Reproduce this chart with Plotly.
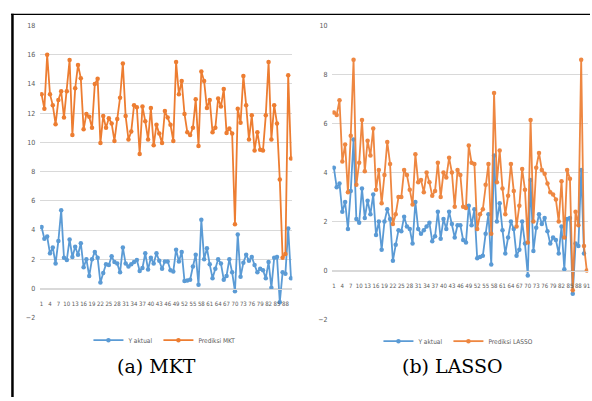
import plotly.graph_objects as go

# ---------------- data ----------------
y_aktual = [4.2, 3.4, 3.55, 2.4, 2.8, 1.7, 3.25, 5.35, 2.1, 1.95,
            3.35, 2.15, 2.85, 2.3, 3.1, 1.45, 2.0, 0.85, 2.0, 2.5,
            2.1, 0.4, 1.05, 1.65, 1.6, 2.2, 1.8, 1.7, 1.1, 2.8,
            1.7, 1.5, 1.65, 1.8, 1.95, 1.2, 1.4, 2.4, 1.3, 2.1,
            1.7, 2.4, 1.9, 1.35, 1.85, 1.85, 1.25, 1.15, 2.65, 1.85,
            2.5, 0.5, 0.55, 0.6, 1.5, 2.3, 0.25, 4.7, 2.0, 2.75,
            1.65, 0.7, 1.35, 2.0, 1.7, 0.6, 0.85, 2.0, 1.1, -0.2,
            3.7, 0.8, 1.75, 2.3, 1.9, 2.15, 1.6, 1.1, 1.35, 1.25,
            0.7, 1.8, 0.05, 2.1, 2.15, -0.95, 1.1, 1.0, 4.1, 0.7]

prediksi_mkt = [13.3, 12.3, 16.0, 13.3, 12.55, 11.25, 12.9, 13.5, 11.7, 13.5,
                15.65, 10.5, 13.7, 15.3, 14.4, 10.9, 11.95, 11.75, 11.0, 14.0,
                14.35, 9.95, 11.8, 11.0, 11.65, 11.3, 10.1, 11.6, 13.05, 15.4,
                11.8, 10.2, 10.75, 12.55, 12.4, 9.2, 12.45, 11.45, 10.2, 12.35,
                9.8, 11.2, 10.6, 9.95, 12.15, 11.7, 11.2, 10.1, 15.5, 13.3,
                14.2, 11.95, 10.7, 10.5, 11.0, 12.95, 9.75, 14.85, 14.2, 12.35,
                12.9, 10.7, 11.0, 13.0, 12.45, 13.65, 10.65, 10.95, 10.6, 4.4,
                12.3, 11.35, 14.55, 12.55, 10.2, 11.85, 9.45, 10.7, 9.5, 9.45,
                11.85, 15.5, 10.2, 12.55, 11.3, 7.45, 2.1, 2.35, 14.6, 8.9]

prediksi_lasso = [6.45, 6.35, 6.95, 4.45, 5.15, 3.2, 5.5, 8.6, 3.5, 4.4,
                  6.15, 4.05, 5.3, 4.7, 5.8, 3.3, 4.1, 2.75, 3.9, 5.25,
                  4.35, 1.9, 2.3, 3.0, 3.0, 4.1, 3.9, 3.3, 2.7, 4.75,
                  3.6, 3.7, 3.2, 4.0, 3.6, 3.05, 3.25, 4.4, 3.0, 4.0,
                  3.8, 4.6, 4.0, 2.6, 4.1, 3.9, 2.6, 2.55, 5.1, 4.4,
                  4.35, 1.7, 2.3, 2.5, 3.5, 4.35, 1.5, 7.25, 3.6, 4.9,
                  3.35, 2.3, 3.05, 4.35, 3.25, 1.8, 2.65, 4.15, 3.3, 1.15,
                  6.15, 2.0, 4.2, 4.8, 4.1, 3.95, 3.55, 3.2, 3.1, 2.9,
                  2.0, 3.65, 1.35, 4.1, 3.75, -0.8, 2.4, 1.85, 8.6, 1.0,
                  0.0]

x_mkt = list(range(1, len(prediksi_mkt) + 1))
x_lasso = list(range(1, len(prediksi_lasso) + 1))
x_act = list(range(1, len(y_aktual) + 1))

ticks_mkt = list(range(1, len(prediksi_mkt) + 1, 3))
ticks_lasso = list(range(1, len(prediksi_lasso) + 1, 3))

BLUE = "#5B9BD5"
ORANGE = "#ED7D31"
GRID = "#d9d9d9"
TXT = "#595959"

W, H = 592, 401


def px(v):
    return v / W


def py(v):
    return 1 - v / H


fig = go.Figure()

mk = dict(size=4.5, symbol="circle")
fig.add_trace(go.Scatter(x=x_act, y=y_aktual, mode="lines+markers", name="Y aktual",
                         line=dict(color=BLUE, width=1.8), marker=dict(color=BLUE, **mk),
                         xaxis="x", yaxis="y", legend="legend"))
fig.add_trace(go.Scatter(x=x_mkt, y=prediksi_mkt, mode="lines+markers", name="Prediksi MKT",
                         line=dict(color=ORANGE, width=1.8), marker=dict(color=ORANGE, **mk),
                         xaxis="x", yaxis="y", legend="legend"))
fig.add_trace(go.Scatter(x=x_act, y=y_aktual, mode="lines+markers", name="Y aktual",
                         line=dict(color=BLUE, width=1.8), marker=dict(color=BLUE, **mk),
                         xaxis="x2", yaxis="y2", legend="legend2"))
fig.add_trace(go.Scatter(x=x_lasso, y=prediksi_lasso, mode="lines+markers", name="Prediksi LASSO",
                         line=dict(color=ORANGE, width=1.8), marker=dict(color=ORANGE, **mk),
                         opacity=0.92, xaxis="x2", yaxis="y2", legend="legend2"))

SANS = "Liberation Sans Narrow, DejaVu Sans Condensed, Liberation Sans, Arial"
xtickfont = dict(family=SANS, size=6, color=TXT)
ytickfont = dict(family=SANS, size=7, color=TXT)

xcommon = dict(showgrid=False, showline=True, linecolor=GRID, linewidth=1, ticks="",
               tickangle=0, tickfont=xtickfont, zeroline=False, anchor="free",
               ticklabelstandoff=9, ticklabeloverflow="allow")
ycommon = dict(showgrid=True, gridcolor=GRID, gridwidth=1, zeroline=False, showline=False,
               ticks="", tickfont=ytickfont, dtick=2, ticklabelstandoff=4)

legfont = dict(family=SANS, size=6.5, color=TXT)

fig.update_layout(
    width=W, height=H,
    margin=dict(l=0, r=0, t=0, b=0),
    paper_bgcolor="white", plot_bgcolor="white",
    xaxis=dict(domain=[px(40.3), px(293.4)], range=[0.5, len(x_mkt) + 0.5],
               tickvals=ticks_mkt, ticktext=[str(t) for t in ticks_mkt],
               position=py(290.3), **xcommon),
    yaxis=dict(domain=[py(320), py(22)], range=[-2, 18], anchor="x", **ycommon),
    xaxis2=dict(domain=[px(333.6), px(590.2)], range=[0.5, len(x_lasso) + 0.5],
                tickvals=ticks_lasso, ticktext=[str(t) for t in ticks_lasso],
                position=py(272), **xcommon),
    yaxis2=dict(domain=[py(322), py(22)], range=[-2, 10], anchor="x2", **ycommon),
    legend=dict(orientation="h", x=px(165), y=py(343), xanchor="center", yanchor="middle",
                font=legfont, itemwidth=30, bgcolor="rgba(0,0,0,0)", tracegroupgap=0),
    legend2=dict(orientation="h", x=px(460), y=py(344), xanchor="center", yanchor="middle",
                 font=legfont, itemwidth=30, bgcolor="rgba(0,0,0,0)", tracegroupgap=0),
    annotations=[
        dict(text="(a) MKT", x=px(157), y=py(369), xref="paper", yref="paper",
             showarrow=False, xanchor="center", yanchor="middle",
             font=dict(family="DejaVu Serif, Liberation Serif, serif", size=19, color="black")),
        dict(text="(b) LASSO", x=px(454), y=py(369), xref="paper", yref="paper",
             showarrow=False, xanchor="center", yanchor="middle",
             font=dict(family="DejaVu Serif, Liberation Serif, serif", size=19, color="black")),
    ],
    shapes=[
        dict(type="line", xref="paper", yref="paper", x0=px(11), x1=1, y0=py(10.5), y1=py(10.5),
             line=dict(color="black", width=1.2)),
        dict(type="line", xref="paper", yref="paper", x0=px(12.5), x1=px(12.5), y0=py(10), y1=0,
             line=dict(color="black", width=2.5)),
    ],
    showlegend=True,
)

fig.write_html("out.html")
